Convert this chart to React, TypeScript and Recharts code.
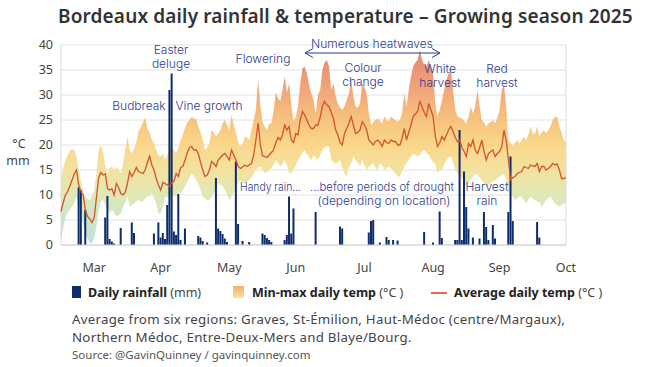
import React from 'react';
import { ComposedChart, Area, Bar, Line, XAxis, YAxis, CartesianGrid, ReferenceLine } from 'recharts';

const FONT = '"Noto Sans", "Open Sans", sans-serif';
const HAND = 'Inter, "DejaVu Sans", sans-serif';
const INK = '#2d3d8e';

// daily values, 1 Mar (day 0) to 15 Oct 2025 (day 228)
// one row per month: Mar, Apr, May, Jun, Jul, Aug, Sep, Oct(1-15)
const maxTemp = [
  13, 15.5, 17, 18, 18.8, 19.2, 19, 17.7, 15, 13, 10.5, 9.7, 9.2, 9, 9.7, 11, 14.3, 19, 20, 18.5, 16, 14.3, 15.5, 15.7, 15, 15.7, 15, 14.3, 16.3, 19, 21.7,
  19, 18.3, 19.3, 20.5, 22.7, 23.5, 24.5, 25.5, 23.3, 22.5, 21, 20.3, 19, 18, 17.7, 18.3, 17, 18, 19, 19.7, 19, 18.3, 19.5, 21, 22, 23.5, 24.5, 25, 25.7, 25.3,
  25.3, 23.7, 22.5, 21, 19, 19.5, 20.3, 23, 22.5, 21.7, 22.3, 23, 24.3, 25, 24, 23, 26, 24, 22.3, 20.5, 19.7, 20.3, 21.7, 21.5, 21, 23, 25, 27, 33, 28, 24.5,
  23.7, 23, 24.3, 24.3, 27, 30.5, 29.3, 28.8, 31, 33.7, 30.5, 32.3, 28, 24.7, 25.7, 27.7, 32.3, 35.3, 35.7, 34.3, 32, 30.3, 29, 26.3, 30, 31, 35, 36.5, 37, 35.7,
  31, 32.3, 29.7, 28.3, 27.5, 27, 27.7, 29, 30.3, 33, 29.7, 27.7, 27.5, 28.3, 32.3, 31.5, 30.3, 26.3, 24, 24.5, 25, 25.3, 24.8, 24.3, 25.7, 25, 24.7, 25.7, 25.3, 25, 24.7,
  25, 26.3, 30.3, 27.7, 31, 33.7, 35.7, 36.5, 37, 39, 37, 36, 35.7, 37, 35.5, 34.3, 28.3, 25.7, 27, 29, 31, 33, 34.3, 35, 31, 27, 25.7, 25.5, 25.3, 24.8, 24.3,
  25.7, 27.7, 26.3, 27.7, 31, 27.7, 25, 24.5, 23.7, 24.3, 24.6, 25, 24.3, 25.5, 27, 31, 32, 27.7, 21, 20.5, 19.7, 20.5, 21, 20.3, 21, 21.7, 21, 22, 23.7, 22.3,
  22.3, 23.7, 21.7, 22.5, 23, 22.3, 23, 23.7, 25, 25.5, 25.7, 23.7, 22.5, 21, 20.5,
];

const minTemp = [
  1, 3.5, 5.5, 6.5, 7, 7.7, 8.5, 9.7, 8, 6.3, 4, 2.5, 1.2, 0.5, 0.3, 1.5, 3.7, 7, 8.7, 9, 8, 7.5, 6.3, 7, 6.5, 5.7, 6, 6.3, 7.7, 8.5, 9.7,
  7.7, 8, 8.3, 8.7, 9, 8.7, 8.7, 9.3, 9.7, 10, 10.3, 9.5, 8.3, 6.3, 6.5, 7.7, 9.7, 9.5, 10.3, 10, 9.7, 10, 10.3, 10.3, 11, 11.7, 12.5, 13.5, 14.3, 13.8,
  13, 12.3, 11, 9.7, 9.3, 9, 9, 9.7, 10.3, 11, 12.3, 12, 11.7, 11, 10, 9, 9.7, 10.5, 11.7, 12.5, 13, 12.5, 12.3, 12.7, 13, 13.5, 14.3, 15, 15.5, 15.7, 15,
  14.3, 14.7, 15, 15.3, 16, 17, 16.3, 15.7, 16.3, 17, 16, 14.3, 14.5, 15, 16, 17, 17.7, 18.5, 19, 18.3, 17.5, 17, 18, 17.5, 17, 18, 19, 19.5, 19.7, 19.7,
  17, 16.5, 16.3, 16.5, 17, 15.5, 14.3, 13.7, 15.5, 16.3, 17.7, 17, 16.5, 15.7, 17, 16, 15, 15.7, 16, 16.3, 15.5, 15, 16.3, 16, 15, 15.3, 15.7, 15.3, 14.8, 14.3, 13.7,
  13.7, 14.7, 15.7, 16.5, 17, 17.7, 18.3, 18, 17.7, 18, 18.7, 19, 18.5, 18, 17.2, 16.5, 16.3, 14.3, 15, 15, 16, 17, 17.5, 17.7, 16.5, 15, 14.3, 13.7, 13.5, 12.5, 11.7,
  12.5, 13, 13.7, 14.3, 14, 13.5, 13, 12.3, 11.7, 12, 12.3, 12.7, 13, 13.3, 13.7, 14, 14.3, 13, 11, 10, 9.7, 9, 9.3, 9.7, 9.7, 9, 8.3, 9, 9.7, 9.3,
  9, 8.7, 8.5, 7.7, 8.3, 9, 9.3, 9.7, 9, 8.3, 8, 7.7, 8, 8.3, 8.5,
];

const avgTemp = [
  6.7, 8.5, 10, 10.7, 11.8, 13, 14.2, 15, 12, 10.7, 10, 7, 5.7, 5.2, 4.5, 5.5, 9.5, 13.5, 14.5, 14, 14.2, 11.3, 11, 11.2, 10, 12.3, 11.5, 10.3, 10, 10.5, 12.3,
  14.7, 13.7, 14.5, 15.5, 14.7, 14.5, 14.3, 15, 16.5, 17.8, 16, 15, 13.3, 12, 11, 12.5, 12.3, 12, 11.7, 12.5, 12.7, 14.3, 13.7, 15.5, 15.7, 17, 18.5, 19.5, 19.7, 19,
  19, 18.3, 16.5, 15, 13.7, 14, 15, 16.7, 16.3, 15.7, 17, 17.5, 18, 18.3, 17.7, 17, 19, 18, 17, 15.7, 15.3, 15.6, 16, 15.7, 16, 16.3, 18, 21, 24.4, 20, 17.8,
  17.7, 17.5, 18, 18.5, 19, 20.5, 21.5, 21, 22, 24, 23, 23.7, 21, 20.5, 22.3, 22, 25, 26.7, 26, 25, 24, 23.3, 23.3, 24, 24, 25.5, 27.7, 28.7, 28, 27.7,
  26.5, 25.3, 23, 22, 20.5, 20, 22.3, 23.3, 24.3, 25.7, 24, 22.3, 22.5, 23, 24.7, 24, 23, 21, 20.5, 20, 20.7, 21, 20.5, 19.7, 21, 20.5, 20.3, 21, 20.7, 20.7, 20,
  20, 21.3, 23.3, 21, 22.5, 24, 25.7, 26.2, 26.7, 28.7, 27.7, 26.5, 25.7, 28.3, 27, 25.7, 21.7, 19.7, 20.5, 21.7, 21, 22, 23, 23.7, 22.7, 21.5, 20.7, 21, 19.5, 18.7, 17.7,
  20.3, 19.7, 21, 19, 18.3, 19.5, 21, 18.7, 17, 18.3, 18.7, 19, 17.7, 18.3, 18.7, 19.7, 23, 21, 17, 13, 13.5, 13.7, 14.3, 14.5, 14.7, 15.7, 15.5, 15.3, 16, 15.8,
  15.7, 16.3, 14.7, 15.7, 15.7, 15, 15.3, 15.7, 16.3, 16, 16.2, 15, 13.3, 13.3, 13.5,
];

const rainfall = [
  0, 0, 0, 0, 0, 0, 0, 0, 11.5, 11, 0, 7, 0, 0, 0, 0, 0, 0, 0, 0, 5.5, 9.8, 1.2, 0.7, 0.3, 0, 0, 3.4, 0, 0, 0,
  0, 4.5, 2.4, 0, 0, 0, 0, 0, 0, 0, 0, 2.3, 0, 4.5, 1.5, 2.4, 1.2, 8, 31, 34.3, 2.7, 2, 10.2, 1, 0, 3.3, 0, 0, 0, 0,
  0, 1.8, 1.5, 0.8, 0, 0.5, 0, 0, 0, 13.4, 3.3, 2.8, 2.2, 1.3, 0.6, 0, 0, 0, 16.7, 4.2, 0, 0.8, 0, 0, 0.6, 0, 0, 0, 0, 0, 2.3,
  2, 1.4, 1, 0.6, 0, 0, 0, 0, 0, 1, 2, 9.7, 2.3, 7.3, 0, 0, 0, 0, 0, 0, 0, 0, 0, 6.6, 0, 0, 0, 0, 0, 0,
  0, 0, 0, 0, 3.7, 3.3, 0, 0, 0, 0, 0, 0, 0, 0, 0, 0, 0, 2.5, 4.8, 5, 0, 0, 0.5, 0, 0, 1.6, 1, 0, 1, 0, 0.9,
  0, 0, 0, 0, 0, 0, 0, 0, 0, 0, 0, 2.6, 0, 0, 0, 0.5, 0, 0, 6.7, 1.4, 0, 0, 0, 0, 0, 1, 1, 23, 1, 14.7, 7.6,
  3.3, 0, 1.5, 0, 0, 1.3, 0, 6.6, 3.6, 1, 0, 4, 1.3, 0, 0, 0, 0, 0, 6.6, 17.7, 4.8, 0, 0, 0, 0, 0, 0, 0, 0, 0,
  0, 4.6, 1.5, 0, 0, 0, 0, 0, 0, 0, 0, 0, 0, 0, 0,
];

const monthStarts = [31, 61, 92, 122, 153, 184, 214];
const monthMids = [15, 45, 76, 106, 137, 168, 198, 228];
const monthLabels = ['Mar', 'Apr', 'May', 'Jun', 'Jul', 'Aug', 'Sep', 'Oct'];
const yTicks = [0, 5, 10, 15, 20, 25, 30, 35, 40];

const data = maxTemp.map((mx, i) => ({
  day: i,
  range: [minTemp[i], mx],
  avg: avgTemp[i],
  rain: rainfall[i],
}));

type HandProps = { x: number; y: number; children: React.ReactNode; anchor?: string; len?: number };

const Hand = ({ x, y, children, anchor = 'middle', len }: HandProps) => (
  <text
    x={x}
    y={y}
    textAnchor={anchor as any}
    dominantBaseline="central"
    fontFamily={HAND}
    fontWeight={300}
    fontSize={12}
    fill={INK}
    textLength={len}
    lengthAdjust={len ? 'spacingAndGlyphs' : undefined}
  >
    {children}
  </text>
);

export default function App() {
  return (
    <div style={{ position: 'absolute', left: 0, top: 0, width: 656, height: 367, background: '#fff', fontFamily: FONT, color: '#333' }}>
      <div style={{ position: 'absolute', left: 58, top: 3, fontSize: 19, fontWeight: 600, letterSpacing: 0.15, color: '#333', whiteSpace: 'nowrap' }}>
        Bordeaux daily rainfall &amp; temperature – Growing season 2025
      </div>

      <div style={{ position: 'absolute', left: 0, top: 0 }}>
        <ComposedChart width={656} height={280} data={data} margin={{ top: 45, right: 90, left: 21, bottom: 0 }}>
          <defs>
            <linearGradient id="tempFill" gradientUnits="userSpaceOnUse" x1="0" y1="45" x2="0" y2="245">
              <stop offset="0%" stopColor="#e2745c" />
              <stop offset="12.5%" stopColor="#ea8a66" />
              <stop offset="25%" stopColor="#f1a26c" />
              <stop offset="37.5%" stopColor="#f6bc70" />
              <stop offset="50%" stopColor="#f9d37e" />
              <stop offset="62.5%" stopColor="#f2df96" />
              <stop offset="75%" stopColor="#dce6ae" />
              <stop offset="87.5%" stopColor="#c6e2c6" />
              <stop offset="100%" stopColor="#b7dbe0" />
            </linearGradient>
          </defs>
          <CartesianGrid vertical={false} stroke="#e2e2e2" />
          <XAxis dataKey="day" type="number" domain={[0, 228]} ticks={monthStarts} tick={false} tickSize={9} height={9} stroke="#d0d0d0" />
          <XAxis
            xAxisId="lbl"
            dataKey="day"
            type="number"
            domain={[0, 228]}
            ticks={monthMids}
            interval={0}
            tickFormatter={(v: number) => monthLabels[monthMids.indexOf(v)]}
            axisLine={false}
            tickLine={false}
            height={26}
            tickMargin={3}
            tick={{ fontSize: 12.5, fill: '#444', fontFamily: FONT }}
          />
          <YAxis
            domain={[0, 40]}
            ticks={yTicks}
            interval={0}
            width={40}
            axisLine={false}
            tickLine={false}
            tick={{ fontSize: 12.5, fill: '#444', fontFamily: FONT }}
          />
          <ReferenceLine x={0} stroke="#dcdcdc" />
          <ReferenceLine x={228} stroke="#dcdcdc" />
          <Area dataKey="range" fill="url(#tempFill)" fillOpacity={0.9} stroke="none" isAnimationActive={false} />
          <Bar dataKey="rain" fill="#0d2c6c" barSize={2} isAnimationActive={false} />
          <Line dataKey="avg" stroke="#d4532c" strokeWidth={1.3} dot={false} isAnimationActive={false} />
        </ComposedChart>
      </div>

      <svg width={656} height={367} style={{ position: 'absolute', left: 0, top: 0, pointerEvents: 'none' }}>
        <text x={19} y={143} textAnchor="middle" dominantBaseline="central" fontFamily={FONT} fontSize={12.5} fill="#444">°C</text>
        <text x={18} y={160} textAnchor="middle" dominantBaseline="central" fontFamily={FONT} fontSize={12.5} fill="#444">mm</text>

        <Hand x={171} y={49}>Easter</Hand>
        <Hand x={171} y={63}>deluge</Hand>
        <Hand x={139} y={105}>Budbreak</Hand>
        <Hand x={209} y={105}>Vine growth</Hand>
        <Hand x={263} y={58}>Flowering</Hand>
        <Hand x={372} y={43}>Numerous heatwaves</Hand>
        <line x1={305} y1={53} x2={440} y2={53} stroke={INK} strokeWidth={1} />
        <polyline points="313,48.5 305,53 313,57.5" fill="none" stroke={INK} strokeWidth={1} />
        <polyline points="432,48.5 440,53 432,57.5" fill="none" stroke={INK} strokeWidth={1} />
        <Hand x={363} y={67}>Colour</Hand>
        <Hand x={363} y={81}>change</Hand>
        <Hand x={440} y={68}>White</Hand>
        <Hand x={440} y={82}>harvest</Hand>
        <Hand x={497} y={68}>Red</Hand>
        <Hand x={497} y={82}>harvest</Hand>
        <Hand x={240} y={186} anchor="start" len={61}>Handy rain...</Hand>
        <Hand x={310} y={186} anchor="start" len={144}>...before periods of drought</Hand>
        <Hand x={384} y={200}>(depending on location)</Hand>
        <Hand x={487} y={186}>Harvest</Hand>
        <Hand x={487} y={200}>rain</Hand>
      </svg>

      <div style={{ position: 'absolute', top: 284, left: 0, width: 656, height: 18, fontSize: 12.5, color: '#222' }}>
        <div style={{ position: 'absolute', left: 72, top: 2, width: 9, height: 12, background: '#0d2c6c' }} />
        <div style={{ position: 'absolute', left: 88, top: 0, whiteSpace: 'nowrap' }}>
          <b>Daily rainfall</b> <span style={{ color: '#444' }}>(mm)</span>
        </div>
        <div style={{ position: 'absolute', left: 233, top: 2, width: 11, height: 12, background: 'linear-gradient(#f3ad6c, #f9e3a4)' }} />
        <div style={{ position: 'absolute', left: 252, top: 0, whiteSpace: 'nowrap' }}>
          <b>Min-max daily temp</b> <span style={{ color: '#444' }}>(°C )</span>
        </div>
        <div style={{ position: 'absolute', left: 431, top: 8, width: 16, height: 1.5, background: '#df6a58' }} />
        <div style={{ position: 'absolute', left: 454, top: 0, whiteSpace: 'nowrap' }}>
          <b>Average daily temp</b> <span style={{ color: '#444' }}>(°C )</span>
        </div>
      </div>

      <div style={{ position: 'absolute', left: 72, top: 310, fontSize: 13.3, letterSpacing: 0.25, lineHeight: '18px', color: '#444', whiteSpace: 'nowrap' }}>
        Average from six regions: Graves, St-Émilion, Haut-Médoc (centre/Margaux),
        <br />
        Northern Médoc, Entre-Deux-Mers and Blaye/Bourg.
      </div>
      <div style={{ position: 'absolute', left: 72, top: 347, fontSize: 11.5, color: '#555', whiteSpace: 'nowrap' }}>
        Source: @GavinQuinney / gavinquinney.com
      </div>
    </div>
  );
}
